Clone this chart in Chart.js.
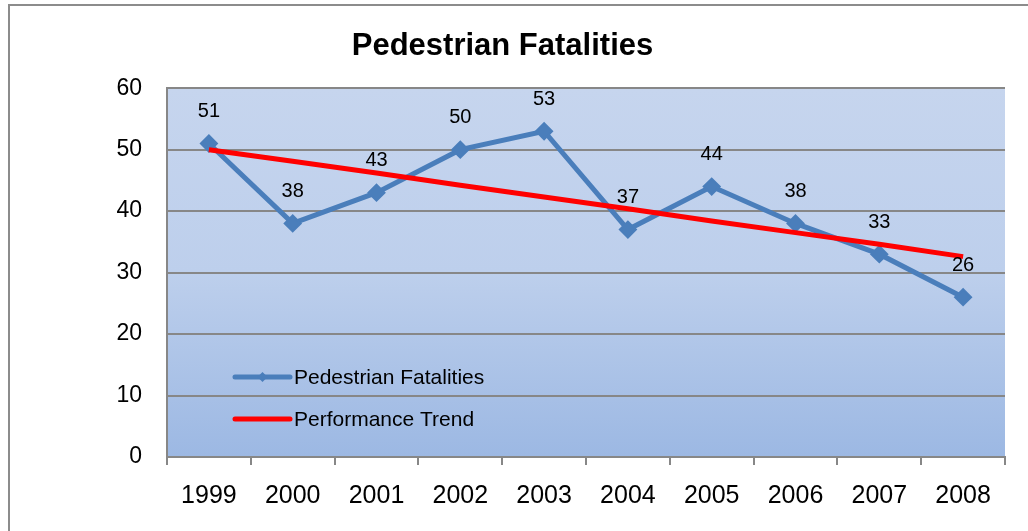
<!DOCTYPE html>
<html>
<head>
<meta charset="utf-8">
<script src="https://cdn.jsdelivr.net/npm/chart.js@4/dist/chart.umd.min.js"></script>
<style>
  body { margin: 0; background: #fff; }
  #wrap { width: 1028px; height: 531px; }
</style>
</head>
<body>
<div id="wrap"><canvas id="chart" width="1028" height="531"></canvas></div>
<script>
// Données
const years = ["1999","2000","2001","2002","2003","2004","2005","2006","2007","2008"];
const fatalities = [51, 38, 43, 50, 53, 37, 44, 38, 33, 26];
const trend = [50.0, 48.1, 46.2, 44.2, 42.3, 40.4, 38.4, 36.5, 34.6, 32.6];
const yTicks = [0, 10, 20, 30, 40, 50, 60];

const BLUE = "#4A7EBB";
const RED = "#FF0000";
const GRID = "#878787";
const FONT = "'Liberation Sans', Arial, sans-serif";

// Cadre + fond dégradé de la zone de tracé
const bgPlugin = {
  id: "bg",
  beforeDraw(chart) {
    const ctx = chart.ctx;
    const a = chart.chartArea;
    ctx.save();
    ctx.fillStyle = "#fff";
    ctx.fillRect(0, 0, chart.width, chart.height);
    ctx.strokeStyle = "#8C8C8C";
    ctx.lineWidth = 2;
    ctx.strokeRect(9, 5, 1200, 700);
    const g = ctx.createLinearGradient(0, a.top, 0, a.bottom);
    g.addColorStop(0, "#C6D5EE");
    g.addColorStop(0.5, "#BDCFEC");
    g.addColorStop(1, "#9CB8E3");
    ctx.fillStyle = g;
    ctx.fillRect(a.left, a.top, a.right - a.left, a.bottom - a.top);
    ctx.restore();
  }
};

// Étiquettes de valeurs + légende dans la zone de tracé
const labelPlugin = {
  id: "labels",
  afterDatasetsDraw(chart) {
    const ctx = chart.ctx;
    const a = chart.chartArea;
    const meta = chart.getDatasetMeta(0);
    ctx.save();
    ctx.fillStyle = "#000";
    ctx.font = "20px " + FONT;
    ctx.textAlign = "center";
    ctx.textBaseline = "middle";
    meta.data.forEach((pt, i) => {
      ctx.fillText(String(fatalities[i]), pt.x, pt.y - 32);
    });

    // légende
    const lx = a.left + 68, lw = 55;
    const rows = [
      { label: "Pedestrian Fatalities", color: BLUE, marker: true, y: a.bottom - 80 },
      { label: "Performance Trend", color: RED, marker: false, y: a.bottom - 38 }
    ];
    ctx.font = "21px " + FONT;
    ctx.textAlign = "left";
    rows.forEach(r => {
      ctx.strokeStyle = r.color;
      ctx.lineWidth = 5;
      ctx.lineCap = "round";
      ctx.beginPath();
      ctx.moveTo(lx, r.y);
      ctx.lineTo(lx + lw, r.y);
      ctx.stroke();
      if (r.marker) {
        const cx = lx + lw / 2, s = 5;
        ctx.fillStyle = r.color;
        ctx.beginPath();
        ctx.moveTo(cx, r.y - s);
        ctx.lineTo(cx + s, r.y);
        ctx.lineTo(cx, r.y + s);
        ctx.lineTo(cx - s, r.y);
        ctx.closePath();
        ctx.fill();
      }
      ctx.fillStyle = "#000";
      ctx.fillText(r.label, lx + lw + 4, r.y + 1);
    });
    ctx.restore();
  }
};

new Chart(document.getElementById("chart"), {
  type: "line",
  data: {
    labels: years,
    datasets: [
      {
        label: "Pedestrian Fatalities",
        data: fatalities,
        borderColor: BLUE,
        backgroundColor: BLUE,
        borderWidth: 5,
        pointStyle: "rectRot",
        pointRadius: 8,
        pointBorderWidth: 2,
        pointBackgroundColor: BLUE,
        pointBorderColor: BLUE,
        tension: 0,
        order: 2
      },
      {
        label: "Performance Trend",
        data: trend,
        borderColor: RED,
        backgroundColor: RED,
        borderWidth: 5,
        pointRadius: 0,
        tension: 0,
        order: 1
      }
    ]
  },
  options: {
    responsive: false,
    animation: false,
    layout: { padding: { left: 0, right: 23, top: 0, bottom: 0 } },
    plugins: {
      legend: { display: false },
      tooltip: { enabled: false },
      title: {
        display: true,
        text: "Pedestrian Fatalities",
        color: "#000",
        font: { family: FONT, size: 31, weight: "bold" },
        padding: { top: 28, bottom: 23 }
      }
    },
    scales: {
      x: {
        offset: true,
        grid: {
          offset: true,
          drawOnChartArea: false,
          drawTicks: true,
          tickLength: 8,
          color: GRID,
          lineWidth: 2
        },
        border: { display: true, color: GRID, width: 2 },
        ticks: {
          color: "#000",
          font: { family: FONT, size: 25 },
          padding: 16,
          maxRotation: 0
        },
        afterFit(scale) { scale.height = 74; }
      },
      y: {
        min: yTicks[0],
        max: yTicks[yTicks.length - 1],
        afterBuildTicks(scale) { scale.ticks = yTicks.map(v => ({ value: v })); },
        grid: { color: GRID, lineWidth: 2, drawTicks: false },
        border: { display: true, color: GRID, width: 2 },
        ticks: {
          color: "#000",
          font: { family: FONT, size: 23 },
          padding: 25
        },
        afterFit(scale) { scale.width = 167; }
      }
    }
  },
  plugins: [bgPlugin, labelPlugin]
});
</script>
</body>
</html>
